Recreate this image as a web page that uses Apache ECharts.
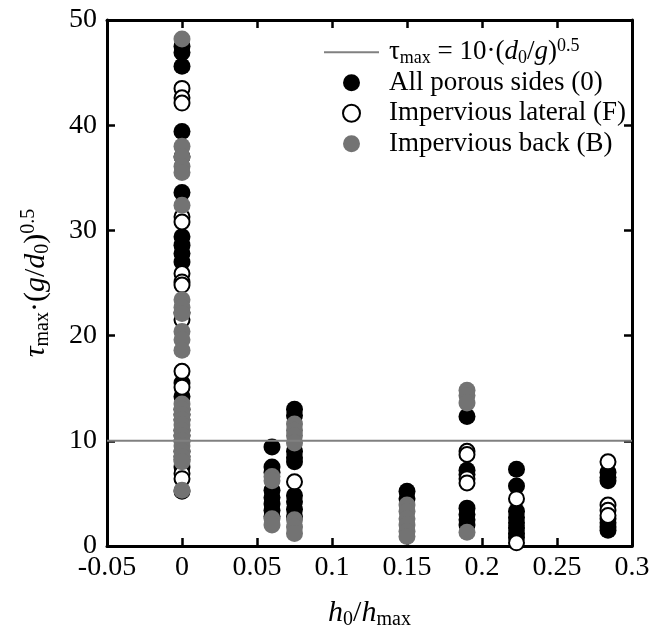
<!DOCTYPE html>
<html>
<head>
<meta charset="utf-8">
<script src="https://cdn.jsdelivr.net/npm/echarts@6/dist/echarts.min.js"></script>
<style>
  html, body { margin: 0; padding: 0; background: #fff; }
  #chart { width: 662px; height: 631px; }
</style>
</head>
<body>
<div id="chart"></div>
<script>
// h0/hmax positions of the tested configurations
const columns = [0, 0.06, 0.075, 0.15, 0.19, 0.223, 0.284];

// Normalised maximum shear, one list per column (same order as `columns`)
const porousY = [
  [47.5, 46.9, 45.6, 39.4, 37.0, 33.6, 29.4, 28.6, 27.8, 27.0, 22.2, 15.5, 14.2, 13.0, 12.0, 11.0, 10.0, 9.0, 8.2, 7.5],
  [9.4, 7.5, 7.0, 5.3, 4.6, 4.0, 3.4, 2.8],
  [13.0, 12.4, 9.0, 8.4, 8.0, 4.8, 4.2, 3.5, 2.8],
  [5.2, 4.5],
  [12.3, 7.2, 6.8, 3.6, 3.0, 2.5, 2.0],
  [7.3, 5.7, 3.3, 2.7, 2.2, 1.7, 1.2, 0.8],
  [7.0, 6.5, 6.2, 2.6, 2.2, 1.8, 1.5]
];
const lateralY = [
  [43.5, 42.6, 42.1, 31.3, 30.8, 25.9, 25.1, 24.8, 21.5, 16.6, 15.1, 12.5, 10.5, 8.5, 6.9, 6.4, 5.2],
  [],
  [6.1],
  [],
  [9.0, 8.7, 6.4, 6.0],
  [4.5, 0.3],
  [8.0, 3.9, 3.4, 2.9]
];
const backY = [
  [48.2, 38.0, 37.0, 36.1, 35.5, 32.4, 23.4, 22.7, 22.1, 20.4, 19.6, 18.6, 13.5, 13.0, 12.5, 12.0, 11.5, 11.0, 10.5, 10.0, 9.5, 9.0, 8.5, 8.0, 5.3],
  [6.6, 6.2, 2.6, 2.0],
  [11.6, 11.0, 10.5, 9.8, 2.5, 1.8, 1.2],
  [3.9, 3.3, 2.6, 2.0, 1.4, 0.9],
  [14.8, 14.3, 13.6, 1.3],
  [],
  []
];

// Reference threshold line
const thresholdValue = 10;
const xRange = [-0.05, 0.3];
const yRange = [0, 50];

function toPoints(perColumn) {
  const pts = [];
  perColumn.forEach((ys, i) => ys.forEach(y => pts.push([columns[i], y])));
  return pts;
}

const FONT = 'Liberation Serif';

function richSet(size, lh, subSize) {
  return {
    f: { fontFamily: FONT, fontSize: size, lineHeight: lh, color: '#000', padding: [0, 0, 0, 5] },
    n: { fontFamily: FONT, fontSize: size, lineHeight: lh, color: '#000' },
    i: { fontFamily: FONT, fontSize: size, lineHeight: lh, fontStyle: 'italic', color: '#000' },
    sub: { fontFamily: FONT, fontSize: subSize, lineHeight: subSize, verticalAlign: 'bottom', color: '#000' },
    sup: { fontFamily: FONT, fontSize: subSize, lineHeight: subSize, verticalAlign: 'top', color: '#000' }
  };
}

const legendRich = richSet(27, 30.5, 18);
const titleRich = richSet(30, 34, 20);

const chart = echarts.init(document.getElementById('chart'), null, { renderer: 'canvas' });

const axisLine = { show: true, onZero: false, lineStyle: { color: '#000', width: 3 } };
const axisTick = { show: true, inside: true, length: 8, lineStyle: { color: '#000', width: 2.5 } };
const tickFont = { fontFamily: FONT, fontSize: 28, color: '#000' };

chart.setOption({
  animation: false,
  backgroundColor: '#fff',
  grid: { left: 107, right: 30, top: 20, bottom: 85, containLabel: false, outerBoundsMode: 'none' },
  legend: {
    orient: 'vertical',
    left: 323,
    top: 37,
    padding: 0,
    itemWidth: 55,
    itemHeight: 17,
    itemGap: 0,
    data: [
      { name: 'threshold', itemStyle: { opacity: 0 } },
      'All porous sides (0)',
      'Impervious lateral (F)',
      'Impervious back (B)'
    ],
    formatter: function (name) {
      if (name === 'threshold') {
        return '{f|τ}{sub|max}{n| = 10·(}{i|d}{sub|0}{n|/}{i|g}{n|)}{sup|0.5}';
      }
      return '{f|' + name + '}';
    },
    textStyle: { fontFamily: FONT, fontSize: 27, lineHeight: 30.5, color: '#000', rich: legendRich }
  },
  xAxis: [
    {
      type: 'value', min: xRange[0], max: xRange[1], interval: 0.05,
      position: 'bottom',
      axisLine, axisTick, splitLine: { show: false },
      axisLabel: Object.assign({}, tickFont, {
        margin: 8,
        formatter: v => String(Math.round(v * 100) / 100)
      }),
      name: '{i|h}{sub|0}{n|/}{i|h}{sub|max}',
      nameLocation: 'middle',
      nameGap: 50,
      nameTextStyle: { rich: titleRich }
    },
    {
      type: 'value', min: xRange[0], max: xRange[1], interval: 0.05,
      position: 'top',
      axisLine, axisTick, splitLine: { show: false },
      axisLabel: { show: false }
    }
  ],
  yAxis: [
    {
      type: 'value', min: yRange[0], max: yRange[1], interval: 10,
      position: 'left',
      axisLine, axisTick, splitLine: { show: false },
      axisLabel: Object.assign({}, tickFont, { margin: 10 }),
      name: '{i|τ}{sub|max}{n|·(}{i|g}{n|/}{i|d}{sub|0}{n|)}{sup|0.5}',
      nameLocation: 'middle',
      nameGap: 54,
      nameRotate: 90,
      nameTextStyle: { rich: titleRich }
    },
    {
      type: 'value', min: yRange[0], max: yRange[1], interval: 10,
      position: 'right',
      axisLine, axisTick, splitLine: { show: false },
      axisLabel: { show: false }
    }
  ],
  series: [
    {
      name: 'threshold',
      type: 'line',
      data: [[xRange[0], thresholdValue], [xRange[1], thresholdValue]],
      symbol: 'none',
      lineStyle: { color: '#808080', width: 2 },
      itemStyle: { color: '#808080' },
      silent: true
    },
    {
      name: 'All porous sides (0)',
      type: 'scatter',
      data: toPoints(porousY),
      symbol: 'circle',
      symbolSize: 17,
      itemStyle: { color: '#000', opacity: 1 }
    },
    {
      name: 'Impervious lateral (F)',
      type: 'scatter',
      data: toPoints(lateralY),
      symbol: 'circle',
      symbolSize: 15,
      itemStyle: { color: '#fff', borderColor: '#000', borderWidth: 2, opacity: 1 }
    },
    {
      name: 'Impervious back (B)',
      type: 'scatter',
      data: toPoints(backY),
      symbol: 'circle',
      symbolSize: 17,
      itemStyle: { color: '#737373', opacity: 1 }
    }
  ]
});
</script>
</body>
</html>
